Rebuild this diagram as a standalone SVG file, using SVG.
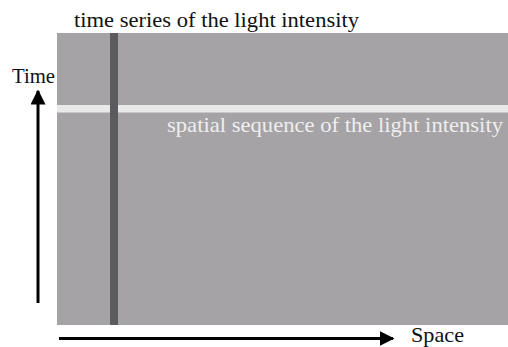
<svg xmlns="http://www.w3.org/2000/svg" width="508" height="347" viewBox="0 0 508 347">
<defs>
<style>
.lbl{font-family:"Liberation Serif","DejaVu Serif",serif;font-size:21px;fill:#111}
.wl{font-family:"Liberation Serif","DejaVu Serif",serif;font-size:21px;fill:#eeeeee}
.ax{stroke:#000;stroke-width:3;fill:none}
</style>
<marker id="ah" viewBox="0 0 10 10" refX="9" refY="5" markerWidth="5" markerHeight="5" markerUnits="strokeWidth" orient="auto">
<path d="M0,0 L10,5 L0,10 Z" fill="#000"/>
</marker>
</defs>
<rect width="508" height="347" fill="#fff"/>
<g id="field">
<rect x="57" y="33" width="451" height="292" fill="#a5a3a6"/>
<rect x="57" y="105" width="451" height="7.5" fill="#e9e9e9"/>
<rect x="110" y="33" width="8" height="292" fill="#5b5b5d"/>
</g>
<g id="labels">
<text class="lbl" x="74" y="27" textLength="285" lengthAdjust="spacingAndGlyphs">time series of the light intensity</text>
<text class="lbl" x="12" y="83" textLength="43" lengthAdjust="spacingAndGlyphs">Time</text>
<text class="wl" x="167" y="132" textLength="336" lengthAdjust="spacingAndGlyphs">spatial sequence of the light intensity</text>
<text class="lbl" x="411" y="342" textLength="53" lengthAdjust="spacingAndGlyphs">Space</text>
</g>
<g id="connectors">
<line class="ax" x1="38" y1="303" x2="38" y2="91" marker-end="url(#ah)"/>
<line class="ax" x1="59" y1="338.5" x2="393" y2="338.5" marker-end="url(#ah)"/>
</g>
</svg>
